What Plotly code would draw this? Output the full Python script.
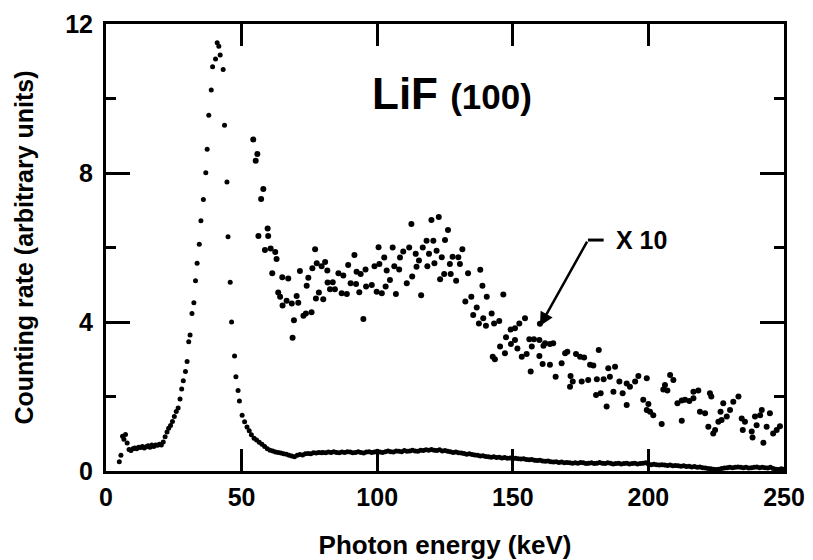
import plotly.graph_objects as go

# ---- main spectrum (small dots) ----
main_energy = [
    4.9, 5.5, 6.1, 6.6, 7.2, 7.8, 8.5, 9.2, 9.9, 10.6, 11.3, 12.0, 12.7, 13.4, 14.1,
    14.8, 15.5, 16.2, 16.9, 17.6, 18.3, 19.0, 19.7, 20.4, 21.1,
    21.8, 22.5, 23.1, 23.8, 24.5, 25.2, 25.9, 26.6, 27.3, 27.9, 28.5, 29.3, 29.9, 30.5,
    31.0, 31.7, 32.4, 33.0, 33.6, 34.4, 35.0, 35.9, 36.8, 37.3, 37.9, 38.8, 39.3, 40.4,
    41.0, 41.6, 42.1, 43.2, 43.7, 44.6, 45.0, 45.8, 46.3, 47.4, 47.9, 48.7, 49.2, 50.2,
    51.1, 52.0, 52.8, 53.6, 54.6, 55.5, 56.5, 57.5, 58.5, 59.5, 60.5, 61.5, 62.5, 63.5,
    64.5, 65.5, 66.5, 67.5, 68.5, 69.5, 70.5, 71.5, 72.5, 73.5, 74.5, 75.5, 76.5, 77.5,
    78.5, 79.5,
    80, 81, 82, 83, 84, 85, 86, 87, 88, 89, 90, 91, 92, 93, 94, 95, 96, 97, 98, 99,
    100, 101, 102, 103, 104, 105, 106, 107, 108, 109, 110, 111, 112, 113, 114, 115,
    116, 117, 118, 119, 120, 121, 122, 123, 124, 125, 126, 127, 128, 129, 130, 131,
    132, 133, 134, 135, 136, 137, 138, 139, 140, 141, 142, 143, 144, 145, 146, 147,
    148, 149, 150, 151, 152, 153, 154, 155, 156, 157, 158, 159, 160, 161, 162, 163,
    164, 165, 166, 167, 168, 169, 170, 171, 172, 173, 174, 175, 176, 177, 178, 179,
    180, 181, 182, 183, 184, 185, 186, 187, 188, 189, 190, 191, 192, 193, 194, 195,
    196, 197, 198, 199, 200, 201, 202, 203, 204, 205, 206, 207, 208, 209, 210, 211,
    212, 213, 214, 215, 216, 217, 218, 219, 220, 221, 222, 223, 224, 225, 226, 227,
    228, 229, 230, 231, 232, 233, 234, 235, 236, 237, 238, 239, 240, 241, 242, 243,
    244, 245, 246, 247, 248, 249, 250,
]
main_rate = [
    0.25, 0.42, 0.93, 0.85, 0.98, 0.75, 0.58, 0.55, 0.60, 0.62, 0.60, 0.64, 0.63, 0.66, 0.62,
    0.65, 0.68, 0.64, 0.70, 0.66, 0.70, 0.69, 0.72, 0.70, 0.78,
    0.92, 1.05, 1.15, 1.22, 1.33, 1.46, 1.60, 1.69, 1.93, 2.20, 2.42, 2.67, 2.94, 3.47,
    3.65, 4.23, 4.52, 5.11, 5.58, 6.09, 6.72, 7.29, 8.01, 8.64, 9.55, 10.23, 10.85, 11.06,
    11.50, 11.40, 11.17, 10.78, 9.28, 7.76, 6.29, 5.07, 4.00, 3.09, 2.53, 2.16, 1.88, 1.50,
    1.32, 1.18, 1.08, 0.97, 0.88, 0.83, 0.77, 0.72, 0.66, 0.60, 0.56, 0.54, 0.51, 0.50,
    0.48, 0.46, 0.45, 0.42, 0.40, 0.38, 0.42, 0.44, 0.43, 0.46, 0.47, 0.46, 0.49, 0.48,
    0.50, 0.49,
    0.50, 0.49, 0.51, 0.50, 0.52, 0.50, 0.49, 0.51, 0.50, 0.52, 0.51, 0.49, 0.50, 0.52, 0.50, 0.48, 0.51, 0.52, 0.50, 0.51,
    0.53, 0.51, 0.50, 0.52, 0.54, 0.52, 0.51, 0.54, 0.53, 0.52, 0.55, 0.53, 0.54, 0.56, 0.54, 0.53,
    0.56, 0.55, 0.57, 0.56, 0.58, 0.56, 0.55, 0.57, 0.54, 0.55, 0.53, 0.52, 0.50, 0.51, 0.49, 0.48,
    0.47, 0.45, 0.46, 0.44, 0.43, 0.42, 0.40, 0.41, 0.39, 0.38, 0.37, 0.38, 0.36, 0.37, 0.35, 0.36,
    0.34, 0.35, 0.33, 0.34, 0.33, 0.32, 0.33, 0.31, 0.30, 0.31, 0.29, 0.28, 0.29, 0.27, 0.26, 0.27,
    0.25, 0.24, 0.25, 0.23, 0.24, 0.22, 0.23, 0.22, 0.21, 0.22, 0.21, 0.23, 0.22, 0.20, 0.21, 0.22,
    0.20, 0.21, 0.23, 0.21, 0.20, 0.22, 0.21, 0.19, 0.20, 0.21, 0.19, 0.20, 0.21, 0.19, 0.20, 0.21,
    0.19, 0.20, 0.21, 0.22, 0.19, 0.17, 0.18, 0.17, 0.16, 0.17, 0.16, 0.15, 0.16, 0.14, 0.15, 0.14,
    0.13, 0.14, 0.12, 0.13, 0.11, 0.12, 0.10, 0.11, 0.09, 0.08, 0.07, 0.06, 0.05, 0.04, 0.05, 0.07,
    0.08, 0.09, 0.10, 0.09, 0.10, 0.11, 0.10, 0.09, 0.10, 0.08, 0.09, 0.10, 0.11, 0.09, 0.10, 0.09,
    0.08, 0.10, 0.07, 0.05, 0.04, 0.06, 0.05,
]

# ---- x10 magnified spectrum (larger dots) ----
x10_energy = [
    54.3, 55.2, 55.8, 56.2, 57.2, 58.0, 58.6, 59.6, 59.8, 60.7, 61.3, 62.4, 62.9, 63.5, 64.2,
    65.0, 65.1, 66.6, 67.2, 68.5, 68.8, 69.3, 70.3, 70.9, 71.5, 72.8, 73.7, 74.0, 74.6, 75.8,
    76.1, 77.1, 77.4, 77.7, 78.5, 79.5, 80.1, 80.8, 81.6, 81.7, 82.6, 83.6, 84.4, 85.7, 86.9,
    87.5, 88.8, 89.3, 90.2, 91.6, 92.2, 92.4, 93.4, 93.9, 94.9, 95.7, 95.9, 98.0, 99.0, 99.8,
    100.5, 100.8, 101.7, 102.6, 103.1, 103.5, 104.7, 105.7, 106.3, 106.9, 108.1, 108.4, 109.6,
    110.9, 111.8, 112.6, 112.9, 114.2, 114.5, 115.4, 116.2, 116.8, 118.2, 118.5, 119.1, 120.0,
    120.7, 121.1, 121.9, 122.7, 123.2, 123.8, 124.7, 125.0, 126.1, 126.8, 127.1, 127.8, 129.1,
    129.9, 130.5, 131.4, 132.5, 133.5, 134.7, 135.4, 136.7, 137.5, 138.0, 138.8, 139.1, 140.1,
    140.4, 142.2, 142.6, 143.1, 143.4, 145.0, 145.3, 146.5, 147.1, 147.5, 149.2, 149.3, 150.8,
    150.8, 151.7, 152.4, 153.3, 154.5, 155.1, 156.1, 156.6, 157.0, 157.8, 159.8, 159.8, 160.0,
    161.0, 161.3, 161.9, 163.7, 163.7, 164.9, 165.8, 168.0, 169.3, 170.1, 171.1, 171.3, 172.1,
    173.3, 174.8, 175.4, 176.3, 177.8, 178.5, 179.7, 180.7, 181.0, 181.7, 182.4, 183.5, 184.6,
    185.2, 185.8, 187.1, 187.7, 189.3, 190.5, 192.0, 192.0, 193.2, 195.1, 196.3, 198.1, 199.4,
    199.4, 200.0, 200.6, 201.8, 204.9, 205.5, 206.1, 207.0, 208.0, 209.2, 210.7, 212.3, 212.3,
    213.5, 215.1, 216.6, 216.6, 218.4, 219.0, 220.9, 222.1, 222.7, 223.2, 223.9, 224.6, 225.8,
    226.6, 227.0, 227.6, 228.9, 230.1, 231.3, 233.2, 234.4, 234.8, 235.6, 238.1, 238.4, 239.3,
    239.9, 241.2, 241.8, 242.4, 243.6, 244.8, 246.0, 247.3, 248.5,
]
x10_rate = [
    8.90, 8.33, 8.51, 6.31, 7.30, 7.57, 5.93, 6.51, 6.31, 5.97, 5.31, 5.88, 5.69, 4.79, 4.68,
    5.20, 4.44, 4.57, 5.17, 4.50, 3.58, 4.05, 4.70, 4.52, 5.37, 4.17, 4.23, 4.97, 5.19, 4.26,
    5.44, 5.95, 4.63, 5.58, 4.79, 5.50, 4.61, 5.61, 5.38, 5.06, 4.88, 5.07, 4.88, 5.31, 4.77,
    5.25, 4.75, 5.53, 5.04, 5.80, 5.02, 5.35, 4.80, 5.29, 4.08, 5.41, 4.95, 4.99, 5.50, 4.81,
    6.01, 5.56, 4.77, 5.73, 4.95, 5.38, 5.13, 6.00, 5.50, 4.75, 5.41, 5.73, 5.89,
    5.04, 6.00, 6.63, 5.22, 5.83, 5.48, 5.65, 4.72, 6.00, 6.18, 5.50, 5.83, 6.74,
    6.18, 5.58, 5.91, 6.82, 5.15, 5.74, 5.29, 6.20, 6.47, 5.56, 5.29, 5.75, 5.11,
    5.74, 5.56, 5.95, 4.55, 5.31, 4.68, 4.19, 4.39, 3.96, 5.40, 4.97, 4.10, 3.90,
    4.68, 4.23, 3.07, 3.96, 3.00, 4.03, 3.34, 4.74, 3.16, 3.59, 3.80, 3.41, 3.83,
    3.52, 3.29, 3.96, 3.07, 4.10, 3.14, 3.54, 2.67, 3.34, 3.54, 3.52, 3.09, 3.95,
    2.87, 3.36, 3.43, 3.41, 2.85, 3.43, 2.53, 2.89, 3.16, 3.20, 2.26, 2.55, 2.40,
    3.14, 3.07, 2.40, 3.05, 2.44, 2.85, 2.83, 2.04, 2.46, 3.25, 2.09, 2.46, 1.73,
    2.76, 2.53, 2.13, 2.80, 2.40, 2.09, 2.35, 1.77, 2.26, 2.40, 2.55, 1.91, 2.49,
    1.64, 1.80, 1.59, 1.50, 1.26, 2.19, 2.31, 2.16, 2.58, 2.44, 1.82, 1.89, 1.35,
    1.91, 1.88, 2.13, 1.95, 2.16, 1.59, 1.55, 1.19, 2.09, 2.00, 1.01, 1.10, 1.32,
    1.59, 1.37, 1.82, 1.46, 1.64, 1.86, 2.00, 1.41, 1.10, 1.32, 1.06, 0.90, 1.46,
    1.23, 1.50, 1.64, 0.76, 1.19, 1.55, 1.01, 1.10, 1.20,
]

x_ticks = [0, 50, 100, 150, 200, 250]
y_ticks = [0, 4, 8, 12]
y_minor_ticks = [2, 6, 10]

FONT = "Liberation Sans"

fig = go.Figure()
fig.add_trace(go.Scatter(
    x=main_energy, y=main_rate, mode="markers",
    marker=dict(color="black", size=5), showlegend=False, cliponaxis=False,
))
fig.add_trace(go.Scatter(
    x=x10_energy, y=x10_rate, mode="markers",
    marker=dict(color="black", size=6), showlegend=False,
))

fig.add_annotation(
    x=127.6, y=10.13, xref="x", yref="y", showarrow=False,
    text="<b>LiF</b> <span style='font-size:35px'><b>(100)</b></span>",
    font=dict(family=FONT, size=44, color="black"),
)
fig.add_annotation(
    x=160.0, y=3.89, xref="x", yref="y",
    ax=48, ay=-86, axref="pixel", ayref="pixel",
    showarrow=True, arrowhead=2, arrowsize=1.1, arrowwidth=2.5, arrowcolor="black",
    text="",
)
fig.add_shape(type="line", x0=177.7, x1=183.5, y0=6.2, y1=6.2, xref="x", yref="y",
              line=dict(color="black", width=3))
fig.add_annotation(
    x=187.3, y=6.2, xref="x", yref="y", showarrow=False, xanchor="left",
    text="<b>X 10</b>", font=dict(family=FONT, size=25, color="black"),
)

# the page body has an 8px margin, so the figure is 8px smaller and margins shifted
fig.update_layout(
    width=805, height=552,
    margin=dict(l=98, r=29, t=16, b=89),
    paper_bgcolor="white", plot_bgcolor="white",
    font=dict(family=FONT, color="black"),
)
fig.update_xaxes(
    range=[0, 250], tickvals=x_ticks, ticktext=[str(v) for v in x_ticks],
    ticks="inside", ticklen=22, tickwidth=2.5, tickcolor="black",
    showline=True, linewidth=3, linecolor="black", mirror="ticks",
    showgrid=False, zeroline=False, ticklabelstandoff=2,
    tickfont=dict(family=FONT, size=25, color="black", weight="bold"),
    title=dict(text="<b>Photon energy (keV)</b>", font=dict(family=FONT, size=26, color="black"), standoff=26),
    automargin=False,
)
fig.update_yaxes(
    range=[0, 12], tickvals=y_ticks, ticktext=[str(v) for v in y_ticks],
    ticks="inside", ticklen=24, tickwidth=2.5, tickcolor="black",
    minor=dict(tickvals=y_minor_ticks, ticks="inside", ticklen=10, tickwidth=2.5, tickcolor="black"),
    showline=True, linewidth=3, linecolor="black", mirror="ticks",
    showgrid=False, zeroline=False, ticklabelstandoff=5,
    tickfont=dict(family=FONT, size=25, color="black", weight="bold"),
    title=dict(text="<b>Counting rate (arbitrary units)</b>", font=dict(family=FONT, size=25, color="black"), standoff=25),
    automargin=False,
)

fig.write_html("out.html")
